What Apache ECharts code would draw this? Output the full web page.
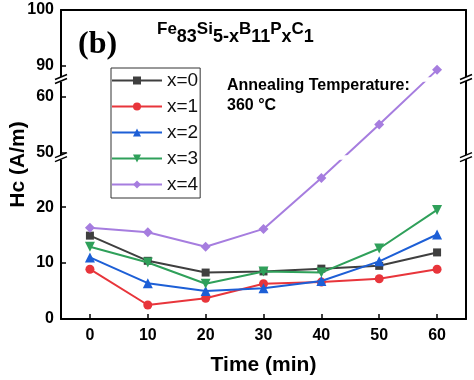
<!DOCTYPE html>
<html><head><meta charset="utf-8">
<script src="https://cdn.jsdelivr.net/npm/echarts@6/dist/echarts.min.js"></script>
<style>html,body{margin:0;padding:0;background:#fff}#c{width:474px;height:380px}</style>
</head><body><div id="c"></div>
<script>
// ---- data ----
const times = [0, 10, 20, 30, 40, 50, 60];
const seriesNames = ['x=0', 'x=1', 'x=2', 'x=3', 'x=4'];
const hcX0 = [14.9, 10.4, 8.3, 8.5, 9.0, 9.5, 11.9];
const hcX1 = [8.9, 2.5, 3.7, 6.3, 6.6, 7.2, 8.9];
const hcX2 = [11.0, 6.4, 5.0, 5.5, 6.8, 10.3, 15.1];
const hcX3 = [12.9, 10.1, 6.3, 8.5, 8.3, 12.6, 19.5];
const hcX4 = [16.3, 15.5, 12.9, 16.1, 25.2, 55.0, 89.3];
const xTicks = [0, 10, 20, 30, 40, 50, 60];
const yTicks = [0, 10, 20, 50, 60, 90, 100];
const yBreaks = [[28.6, 49.5], [62.8, 88]];

const allValues = [hcX0, hcX1, hcX2, hcX3, hcX4];
const colors = ['#3f3f3f', '#e8353b', '#1d5fd6', '#2fa05a', '#a67ddf'];
const symbols = ['rect', 'circle', 'triangle', 'triangle', 'diamond'];
const symRot = [0, 0, 0, 180, 0];
const symSize = [8, 9, 10, 10, 10];

const FONT = 'Liberation Sans, Arial, sans-serif';
const chart = echarts.init(document.getElementById('c'), null, {renderer: 'canvas'});

const breaks = yBreaks.map(b => ({start: b[0], end: b[1], gap: '1.2%'}));
const breakArea = {show: true, itemStyle: {color: '#fff', borderColor: 'rgba(0,0,0,0)', borderWidth: 0, opacity: 1}, zigzagAmplitude: 0, expandOnClick: false};

const series = seriesNames.map((n, k) => ({
  name: n, type: 'line', xAxisIndex: 0, yAxisIndex: 0,
  data: times.map((t, i) => [t, allValues[k][i]]),
  symbol: symbols[k], symbolRotate: symRot[k], symbolSize: symSize[k],
  showSymbol: true,
  lineStyle: {color: colors[k], width: 2},
  itemStyle: {color: colors[k]},
  z: 3 + k
}));

chart.setOption({
  animation: false,
  backgroundColor: '#fff',
  grid: {left: 61, right: 8, top: 10, bottom: 61, containLabel: false, outerBoundsMode: 'none'},
  legend: {
    orient: 'vertical', left: 111, top: 68, z: 200,
    data: seriesNames,
    itemWidth: 50, itemHeight: 10, itemGap: 7,
    padding: [3, 2, 4, 0],
    backgroundColor: '#fff',
    borderColor: '#333', borderWidth: 1,
    textStyle: {fontSize: 19, lineHeight: 19, color: '#111', fontFamily: FONT},
    itemStyle: {borderWidth: 0}
  },
  xAxis: [{
    type: 'value', min: -5, max: 65, position: 'bottom',
    name: 'Time (min)', nameLocation: 'middle', nameGap: 36, nameMoveOverlap: false,
    nameTextStyle: {fontSize: 21, fontWeight: 'bold', color: '#000', fontFamily: FONT},
    axisLine: {show: true, onZero: false, lineStyle: {color: '#000', width: 2}},
    axisTick: {show: true, inside: true, length: 5, customValues: xTicks, lineStyle: {color: '#000', width: 1.5}},
    axisLabel: {customValues: xTicks, fontSize: 16, fontWeight: 'bold', color: '#000', margin: 9, fontFamily: FONT},
    splitLine: {show: false}
  }, {
    type: 'value', min: -5, max: 65, position: 'top',
    axisLine: {show: true, onZero: false, lineStyle: {color: '#000', width: 2}},
    axisTick: {show: false}, axisLabel: {show: false}, splitLine: {show: false}
  }],
  yAxis: [{
    type: 'value', min: 0, max: 100, position: 'left',
    breaks: breaks, breakArea: breakArea,
    name: 'Hc (A/m)', nameLocation: 'middle', nameGap: 32, nameRotate: 90, nameMoveOverlap: false,
    nameTextStyle: {fontSize: 21, fontWeight: 'bold', color: '#000', fontFamily: FONT},
    axisLine: {show: true, onZero: false, lineStyle: {color: '#000', width: 2}},
    axisTick: {show: true, inside: true, length: 5, customValues: yTicks, lineStyle: {color: '#000', width: 1.5}},
    axisLabel: {customValues: yTicks, fontSize: 16, fontWeight: 'bold', color: '#000', margin: 7, fontFamily: FONT},
    splitLine: {show: false}
  }, {
    type: 'value', min: 0, max: 100, position: 'right',
    breaks: breaks, breakArea: breakArea,
    axisLine: {show: true, onZero: false, lineStyle: {color: '#000', width: 2}},
    axisTick: {show: false}, axisLabel: {show: false}, splitLine: {show: false}
  }],
  series: series
});

// break marks and annotations
const g = [];
const xl = chart.convertToPixel({xAxisIndex: 0}, -5);
const xr = chart.convertToPixel({xAxisIndex: 0}, 65);
yBreaks.forEach(b => {
  const y1 = chart.convertToPixel({yAxisIndex: 0}, b[0]);
  const y2 = chart.convertToPixel({yAxisIndex: 0}, b[1]);
  const yc = (y1 + y2) / 2;
  [xl, xr].forEach(x => {
    g.push({type: 'polygon', shape: {points: [[x - 6, yc + 0.5], [x + 6, yc - 4.5], [x + 6, yc - 0.5], [x - 6, yc + 4.5]]}, style: {fill: '#fff'}, z: 300});
    [-2, 2].forEach(d => g.push({type: 'line', shape: {x1: x - 6, y1: yc + d + 2.5, x2: x + 6, y2: yc + d - 2.5}, style: {stroke: '#000', lineWidth: 1.5}, z: 301}));
  });
});
g.push({type: 'text', x: 78, y: 45, style: {text: '(b)', font: 'bold 32px "Liberation Serif", "Times New Roman", serif', fill: '#000', verticalAlign: 'middle'}, z: 300});
g.push({type: 'text', x: 157, y: 28, style: {
  text: '{m|Fe}{s|83}{m|Si}{s|5-x}{m|B}{s|11}{m|P}{s|x}{m|C}{s|1}',
  verticalAlign: 'top', fill: '#000',
  rich: {
    m: {fontSize: 17, lineHeight: 17, fontWeight: 'bold', fontFamily: FONT, verticalAlign: 'bottom', padding: [0, 0, 8, 0], fill: '#000'},
    s: {fontSize: 18, lineHeight: 18, fontWeight: 'bold', fontFamily: FONT, verticalAlign: 'bottom', fill: '#000'}
  }}, z: 300});
g.push({type: 'text', x: 227, y: 76, style: {text: 'Annealing Temperature:\n360 °C', font: 'bold 16px ' + FONT, lineHeight: 20, fill: '#000', verticalAlign: 'top'}, z: 300});
chart.setOption({graphic: g});
</script>
</body></html>
